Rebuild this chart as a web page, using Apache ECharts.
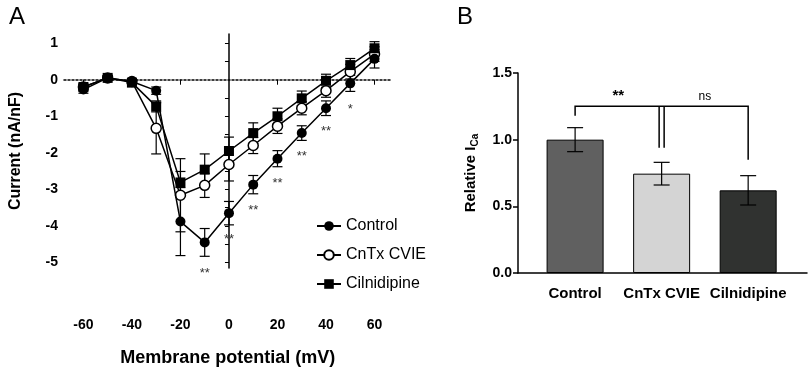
<!DOCTYPE html>
<html>
<head>
<meta charset="utf-8">
<script src="https://cdn.jsdelivr.net/npm/echarts@6/dist/echarts.min.js"></script>
<style>
  html, body { margin: 0; padding: 0; background: #fff; }
  #chart { width: 809px; height: 372px; }
</style>
</head>
<body>
<div id="chart"></div>
<script>
// panel A: current-voltage curves
var voltages = [-60, -50, -40, -30, -20, -10, 0, 10, 20, 30, 40, 50, 60]
var controlMean = [-0.27, 0.05, -0.05, -0.3, -3.88, -4.45, -3.65, -2.87, -2.16, -1.46, -0.78, -0.1, 0.57]
var controlErr = [0.1, 0.05, 0.05, 0.1, 0.93, 0.38, 0.32, 0.25, 0.22, 0.2, 0.2, 0.22, 0.25]
var cntxMean = [-0.2, 0.05, -0.05, -1.33, -3.16, -2.89, -2.32, -1.8, -1.27, -0.78, -0.3, 0.22, 0.7]
var cntxErr = [0.08, 0.05, 0.05, 0.7, 1.0, 0.33, 0.45, 0.22, 0.2, 0.18, 0.18, 0.2, 0.2]
var cilniMean = [-0.2, 0.05, -0.08, -0.73, -2.81, -2.46, -1.95, -1.46, -1.0, -0.51, -0.03, 0.4, 0.86]
var cilniErr = [0.08, 0.05, 0.05, 0.15, 0.3, 0.43, 0.38, 0.28, 0.22, 0.2, 0.18, 0.18, 0.18]
var starV = [-10, 0, 10, 20, 30, 40, 50]
var starY = [-5.3, -4.38, -3.57, -2.84, -2.11, -1.41, -0.81]
var starLabels = ['**', '**', '**', '**', '**', '**', '*']
var xTickLabels = [-60, -40, -20, 0, 20, 40, 60]
var yTickLabels = [-5, -4, -3, -2, -1, 0, 1]
var yTicks = [-5, -4.5, -4, -3.5, -3, -2.5, -2, -1.5, -1, -0.5, 0.5, 1]

// panel B: relative current
var groups = ['Control', 'CnTx CVIE', 'Cilnidipine']
var relMean = [1.0, 0.745, 0.62]
var relErr = [0.09, 0.085, 0.11]
var barColors = ['#606060', '#d4d4d4', '#303230']
var bracketTop = 1.25
var bracketEnds = [1.18, 0.94, 0.85]
var bracketLabels = ['**', 'ns']

var FONT = 'Liberation Sans, Arial, sans-serif'
var chart = echarts.init(document.getElementById('chart'))

function pairs(mean) {
  return voltages.map(function (v, i) { return [v, mean[i]] })
}
function errPairs(mean, err) {
  return voltages.map(function (v, i) { return [v, mean[i] - err[i], mean[i] + err[i]] })
}

// error bar with caps, value(1)=low, value(2)=high
function makeErrorBar(capHalf, width) {
  return function (params, api) {
    var x = api.value(0)
    var lo = api.coord([x, api.value(1)])
    var hi = api.coord([x, api.value(2)])
    var style = { stroke: '#000', lineWidth: width, fill: null }
    return {
      type: 'group',
      children: [
        { type: 'line', shape: { x1: lo[0], y1: lo[1], x2: hi[0], y2: hi[1] }, style: style },
        { type: 'line', shape: { x1: lo[0] - capHalf, y1: lo[1], x2: lo[0] + capHalf, y2: lo[1] }, style: style },
        { type: 'line', shape: { x1: hi[0] - capHalf, y1: hi[1], x2: hi[0] + capHalf, y2: hi[1] }, style: style }
      ]
    }
  }
}

function renderStar(params, api) {
  var p = api.coord([api.value(0), api.value(1)])
  return {
    type: 'text',
    x: p[0],
    y: p[1],
    style: {
      text: starLabels[params.dataIndex],
      fill: '#333',
      fontSize: 13,
      fontFamily: FONT,
      align: 'center',
      verticalAlign: 'middle'
    }
  }
}

function renderBracket(params, api) {
  var top0 = api.coord([0, bracketTop])
  var top2 = api.coord([2, bracketTop])
  var end0 = api.coord([0, bracketEnds[0]])
  var end2 = api.coord([2, bracketEnds[2]])
  var mid = api.coord([1, bracketTop])
  var midEnd = api.coord([1, bracketEnds[1]])
  var l1 = api.coord([0.5, bracketTop])
  var l2 = api.coord([1.5, bracketTop])
  var style = { stroke: '#000', lineWidth: 1.5, fill: null }
  return {
    type: 'group',
    children: [
      { type: 'polyline', shape: { points: [end0, top0, top2, end2] }, style: style },
      { type: 'line', shape: { x1: mid[0] - 2.5, y1: mid[1], x2: midEnd[0] - 2.5, y2: midEnd[1] }, style: style },
      { type: 'line', shape: { x1: mid[0] + 2.5, y1: mid[1], x2: midEnd[0] + 2.5, y2: midEnd[1] }, style: style },
      { type: 'text', x: l1[0], y: l1[1] - 10, style: { text: bracketLabels[0], fill: '#000', fontSize: 15, fontWeight: 'bold', fontFamily: FONT, align: 'center', verticalAlign: 'middle' } },
      { type: 'text', x: l2[0], y: l2[1] - 10, style: { text: bracketLabels[1], fill: '#000', fontSize: 12, fontFamily: FONT, align: 'center', verticalAlign: 'middle' } }
    ]
  }
}

var boldLabel = { color: '#000', fontSize: 14, fontWeight: 'bold', fontFamily: FONT }

var option = {
  animation: false,
  textStyle: { fontFamily: FONT },
  title: [
    { text: 'A', left: 4, top: 0, textStyle: { fontSize: 24, fontWeight: 'normal', color: '#000', fontFamily: FONT } },
    { text: 'B', left: 452, top: 0, textStyle: { fontSize: 24, fontWeight: 'normal', color: '#000', fontFamily: FONT } }
  ],
  legend: {
    data: ['Control', 'CnTx CVIE', 'Cilnidipine'],
    orient: 'vertical',
    left: 311,
    top: 213,
    itemWidth: 24,
    itemHeight: 12,
    itemGap: 13,
    textStyle: { color: '#000', fontSize: 16, fontFamily: FONT }
  },
  grid: [
    { left: 64, top: 34, width: 327.5, height: 236 },
    { left: 518, top: 73, width: 289, height: 200 }
  ],
  xAxis: [
    {
      gridIndex: 0,
      type: 'value',
      min: -68,
      max: 67,
      position: 'bottom',
      axisLine: { onZero: true, lineStyle: { color: '#000', width: 1.5, type: [2, 2] } },
      axisTick: { customValues: [-60, -40, -20, 20, 40, 60], length: 5, lineStyle: { color: '#000' } },
      axisLabel: { show: false },
      splitLine: { show: false }
    },
    {
      gridIndex: 0,
      type: 'value',
      min: -68,
      max: 67,
      position: 'bottom',
      offset: 44,
      axisLine: { show: false, onZero: false },
      axisTick: { show: false },
      axisLabel: Object.assign({ customValues: xTickLabels, margin: 6 }, boldLabel),
      splitLine: { show: false },
      name: 'Membrane potential (mV)',
      nameLocation: 'middle',
      nameGap: 37,
      nameTextStyle: { color: '#000', fontSize: 18, fontWeight: 'bold', fontFamily: FONT }
    },
    {
      gridIndex: 1,
      type: 'value',
      min: -0.66,
      max: 2.68,
      axisLine: { onZero: false, lineStyle: { color: '#000', width: 1.5 } },
      axisTick: { show: false },
      axisLabel: Object.assign({
        customValues: [0, 1, 2],
        margin: 13,
        formatter: function (v) { return groups[Math.round(v)] }
      }, boldLabel, { fontSize: 15 }),
      splitLine: { show: false }
    }
  ],
  yAxis: [
    {
      gridIndex: 0,
      type: 'value',
      min: -5.15,
      max: 1.25,
      position: 'left',
      axisLine: { onZero: true, lineStyle: { color: '#000', width: 1.5 } },
      axisTick: { customValues: yTicks, length: 4, lineStyle: { color: '#000' } },
      axisLabel: { show: false },
      splitLine: { show: false }
    },
    {
      gridIndex: 0,
      type: 'value',
      min: -5.15,
      max: 1.25,
      position: 'left',
      axisLine: { show: false, onZero: false },
      axisTick: { show: false },
      axisLabel: Object.assign({ customValues: yTickLabels, margin: 6 }, boldLabel),
      splitLine: { show: false },
      name: 'Current (nA/nF)',
      nameLocation: 'middle',
      nameGap: 40,
      nameTextStyle: { color: '#000', fontSize: 16, fontWeight: 'bold', fontFamily: FONT }
    },
    {
      gridIndex: 1,
      type: 'value',
      min: 0,
      max: 1.5,
      interval: 0.5,
      axisLine: { show: true, onZero: false, lineStyle: { color: '#000', width: 1.5 } },
      axisTick: { show: true, length: 5, lineStyle: { color: '#000', width: 1.5 } },
      axisLabel: Object.assign({ margin: 6, formatter: function (v) { return v.toFixed(1) } }, boldLabel),
      splitLine: { show: false },
      name: '{a|Relative I}{sub|Ca}',
      nameLocation: 'middle',
      nameGap: 38,
      nameTextStyle: {
        rich: {
          a: { fontSize: 15, fontWeight: 'bold', color: '#000', fontFamily: FONT },
          sub: { fontSize: 10, fontWeight: 'bold', color: '#000', fontFamily: FONT, padding: [8, 0, 0, 0] }
        }
      }
    }
  ],
  series: [
    // error bars behind markers
    { type: 'custom', xAxisIndex: 0, yAxisIndex: 0, z: 1, renderItem: makeErrorBar(5, 1.2), data: errPairs(controlMean, controlErr) },
    { type: 'custom', xAxisIndex: 0, yAxisIndex: 0, z: 1, renderItem: makeErrorBar(5, 1.2), data: errPairs(cntxMean, cntxErr) },
    { type: 'custom', xAxisIndex: 0, yAxisIndex: 0, z: 1, renderItem: makeErrorBar(5, 1.2), data: errPairs(cilniMean, cilniErr) },
    {
      name: 'Control',
      type: 'line',
      xAxisIndex: 0,
      yAxisIndex: 0,
      z: 4,
      data: pairs(controlMean),
      symbol: 'circle',
      symbolSize: 10,
      itemStyle: { color: '#000' },
      lineStyle: { color: '#000', width: 1.5 }
    },
    {
      name: 'CnTx CVIE',
      type: 'line',
      xAxisIndex: 0,
      yAxisIndex: 0,
      z: 3,
      data: pairs(cntxMean),
      symbol: 'circle',
      symbolSize: 10,
      showAllSymbol: true,
      itemStyle: { color: '#fff', borderColor: '#000', borderWidth: 1.5 },
      lineStyle: { color: '#000', width: 1.5 }
    },
    {
      name: 'Cilnidipine',
      type: 'line',
      xAxisIndex: 0,
      yAxisIndex: 0,
      z: 3,
      data: pairs(cilniMean),
      symbol: 'rect',
      symbolSize: 10,
      itemStyle: { color: '#000' },
      lineStyle: { color: '#000', width: 1.5 }
    },
    {
      type: 'custom',
      xAxisIndex: 0,
      yAxisIndex: 0,
      z: 5,
      renderItem: renderStar,
      data: starV.map(function (v, i) { return [v, starY[i]] })
    },
    // panel B
    {
      type: 'bar',
      xAxisIndex: 2,
      yAxisIndex: 2,
      barWidth: 57,
      data: relMean.map(function (m, i) {
        return { value: [i, m], itemStyle: { color: barColors[i], borderColor: '#000', borderWidth: 1 } }
      })
    },
    {
      type: 'custom',
      xAxisIndex: 2,
      yAxisIndex: 2,
      z: 5,
      renderItem: makeErrorBar(8, 1.2),
      data: relMean.map(function (m, i) { return [i, m - relErr[i], m + relErr[i]] })
    },
    {
      type: 'custom',
      xAxisIndex: 2,
      yAxisIndex: 2,
      z: 5,
      renderItem: renderBracket,
      data: [[1, bracketTop]]
    }
  ]
}

chart.setOption(option, true)
</script>
</body>
</html>
